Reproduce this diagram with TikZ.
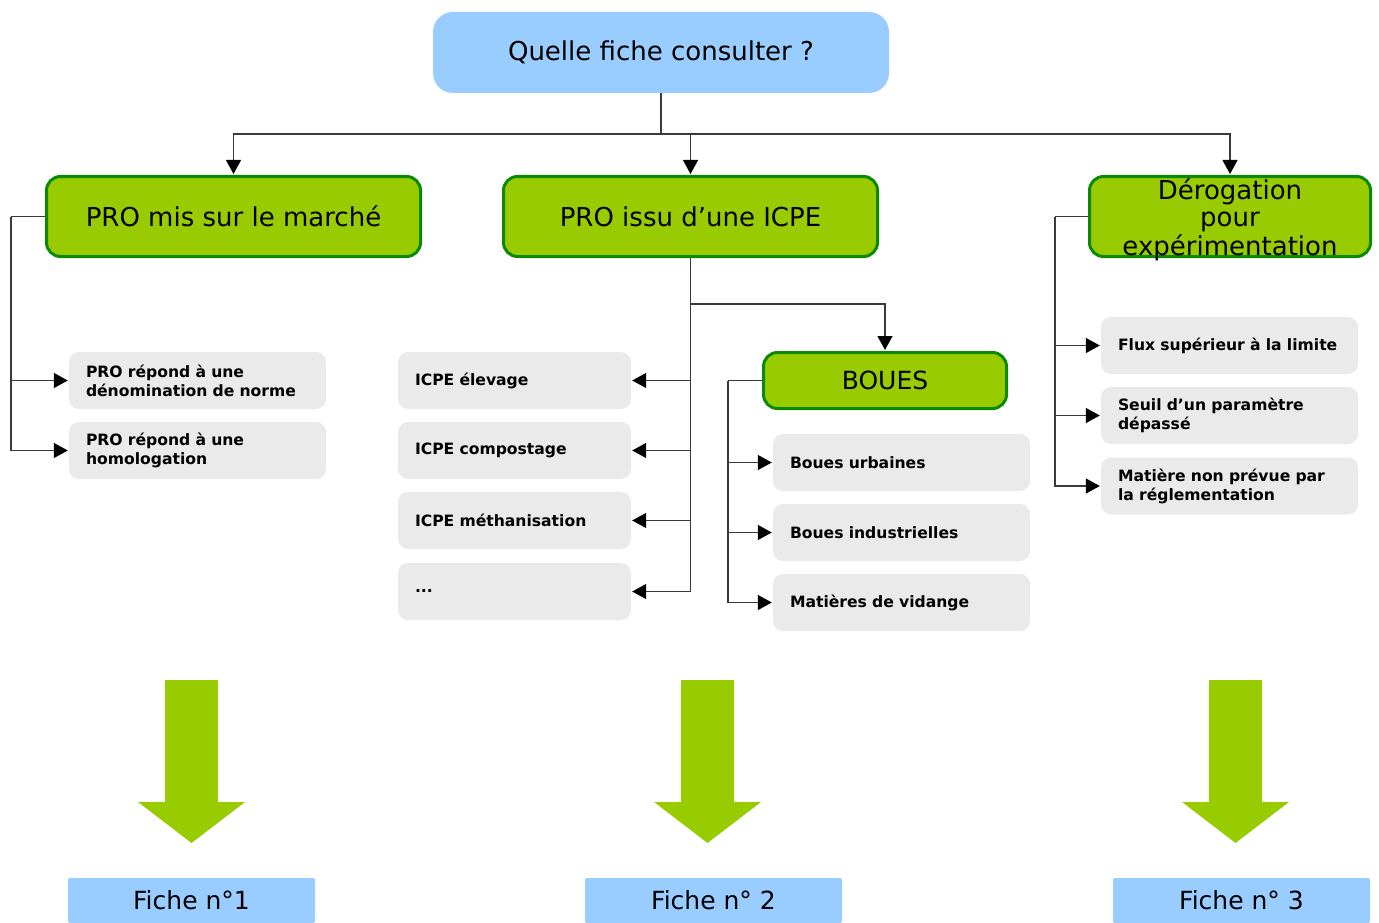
\documentclass[tikz,border=0pt]{standalone}
\usepackage{fontspec}
\setmainfont{DejaVu Sans}
\usetikzlibrary{arrows.meta}
\definecolor{skyblue}{HTML}{99CCFF}
\definecolor{leaf}{HTML}{99CC00}
\definecolor{leafedge}{HTML}{0A8A00}
\definecolor{paleg}{HTML}{EAEAEA}
\definecolor{wire}{HTML}{3A3A3A}

\begin{document}
\begin{tikzpicture}[x=1pt,y=-1pt,
  question/.style={fill=skyblue, rounded corners=20pt, minimum width=456pt,
    minimum height=81pt, inner sep=0pt, font=\fontsize{26}{31}\selectfont},
  category/.style={fill=leaf, draw=leafedge, line width=3pt, rounded corners=14pt,
    minimum height=80pt, inner sep=0pt, align=center,
    font=\fontsize{26}{27.5}\selectfont},
  leafitem/.style={fill=paleg, rounded corners=10pt, minimum height=57pt,
    inner xsep=17pt, inner ysep=0pt, align=left, text width=223pt,
    font=\fontsize{15.6}{19}\selectfont\bfseries},
  narrowitem/.style={leafitem, text width=199pt},
  fiche/.style={fill=skyblue, rounded corners=2pt, minimum width=257pt,
    minimum height=45pt, inner sep=0pt, font=\fontsize{25}{30}\selectfont},
  conn/.style={draw=wire, line width=1.2pt, line join=miter},
  arr/.style={conn, shorten >=1pt, -{Triangle[length=14pt,width=15pt,color=black]}},
  bigarrow/.style={fill=leaf}
]
\fill[white] (0,0) rectangle (1379,923);
\useasboundingbox (0,0) rectangle (1379,923);

% root question
\node[question] (q) at (661,52.5) {Quelle fiche consulter ?};

% three categories
\node[category, minimum width=374pt] (g1) at (233.5,216.5) {PRO mis sur le marché};
\node[category, minimum width=374pt] (g2) at (690.5,216.5) {PRO issu d’une ICPE};
% the three-line label is lowered a little and may touch the frame
\node[category, minimum width=281pt] (g3) at (1230,216.5)
  {\raisebox{-11pt}[0pt][0pt]{\begin{tabular}{@{}c@{}}Dérogation\\pour\\expérimentation\end{tabular}}};

% first branch
\node[leafitem] (l1) at (197.5,380.5) {PRO répond à une\\dénomination de norme};
\node[leafitem] (l2) at (197.5,450.5) {PRO répond à une\\homologation};

% second branch: ICPE
\node[narrowitem] (i1) at (514.5,380.5) {ICPE élevage};
\node[narrowitem] (i2) at (514.5,450.5) {ICPE compostage};
\node[narrowitem] (i3) at (514.5,520.5) {ICPE méthanisation};
\node[narrowitem] (i4) at (514.5,591.5) {...};

% second branch: sludge
\node[category, minimum width=243pt, minimum height=56pt, font=\fontsize{25}{28}\selectfont]
  (b) at (885,380.5) {BOUES};
\node[leafitem] (u1) at (901.5,462.5) {Boues urbaines};
\node[leafitem] (u2) at (901.5,532.5) {Boues industrielles};
\node[leafitem] (u3) at (901.5,602.5) {Matières de vidange};

% third branch
\node[leafitem] (r1) at (1229.5,345.5) {Flux supérieur à la limite};
\node[leafitem] (r2) at (1229.5,415.5) {Seuil d’un paramètre\\dépassé};
\node[leafitem] (r3) at (1229.5,486) {Matière non prévue par\\la réglementation};

% result sheets
\node[fiche, minimum width=247pt] (f1) at (191.5,900.5) {Fiche n°1};
\node[fiche] (f2) at (713.5,900.5) {Fiche n° 2};
\node[fiche] (f3) at (1241.5,900.5) {Fiche n° 3};

% connectors from the question
\coordinate (bus) at (661,134);
\draw[conn] (q.south) -- (bus);
\draw[arr] (bus) -| (g1.north);
\draw[arr] (bus) -| (g2.north);
\draw[arr] (bus) -| (g3.north);

% connectors of the first branch
\coordinate (k1) at (11,216.5);
\draw[conn] (g1.west) -- (k1);
\draw[arr] (k1) |- (l1.west);
\draw[arr] (k1) |- (l2.west);

% connectors of the second branch
\coordinate (split) at (690.5,304);
\draw[arr] (g2.south) |- (i1.east);
\draw[arr] (g2.south) |- (i2.east);
\draw[arr] (g2.south) |- (i3.east);
\draw[arr] (g2.south) |- (i4.east);
\draw[arr] (split) -| (b.north);
\coordinate (k2) at (728,380.5);
\draw[conn] (b.west) -- (k2);
\draw[arr] (k2) |- (u1.west);
\draw[arr] (k2) |- (u2.west);
\draw[arr] (k2) |- (u3.west);

% connectors of the third branch
\coordinate (k3) at (1055,216.5);
\draw[conn] (g3.west) -- (k3);
\draw[arr] (k3) |- (r1.west);
\draw[arr] (k3) |- (r2.west);
\draw[arr] (k3) |- (r3.west);

% large green arrows towards the sheets
\foreach \cx in {191.5,707.5,1235.5} {
  \fill[bigarrow] (\cx-26.5,680) -- (\cx+26.5,680) -- (\cx+26.5,802)
    -- (\cx+53.5,802) -- (\cx,843) -- (\cx-53.5,802) -- (\cx-26.5,802) -- cycle;
}
\end{tikzpicture}
\end{document}
